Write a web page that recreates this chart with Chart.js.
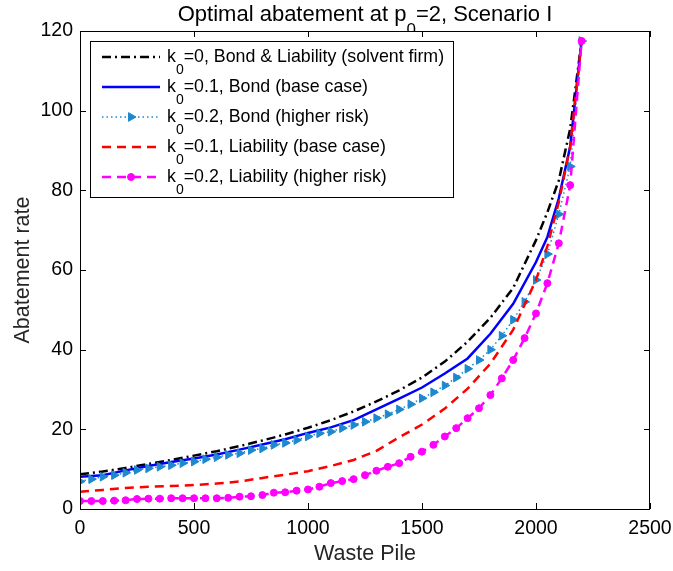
<!DOCTYPE html>
<html>
<head>
<meta charset="utf-8">
<title>Optimal abatement</title>
<script src="https://cdn.jsdelivr.net/npm/chart.js@4.4.1/dist/chart.umd.min.js"></script>
<style>
  html, body { margin: 0; padding: 0; background: #fff; }
  #wrap { width: 673px; height: 571px; }
</style>
</head>
<body>
<div id="wrap"><canvas id="chart" width="673" height="571"></canvas></div>
<script>
// Waste pile grid (coarse lines) and marker grid (every 50)
const xCoarse = [0, 100, 200, 300, 400, 500, 600, 700, 800, 900, 1000, 1100, 1200,
  1300, 1400, 1500, 1600, 1700, 1800, 1900, 2000, 2050, 2100, 2150, 2200];
const xDense = [0, 50, 100, 150, 200, 250, 300, 350, 400, 450, 500, 550, 600, 650,
  700, 750, 800, 850, 900, 950, 1000, 1050, 1100, 1150, 1200, 1250, 1300, 1350,
  1400, 1450, 1500, 1550, 1600, 1650, 1700, 1750, 1800, 1850, 1900, 1950, 2000,
  2050, 2100, 2150, 2200];

// Abatement rate series
const solventFirm = [8.7, 9.4, 10.3, 11.3, 12.3, 13.4, 14.5, 15.8, 17.2, 18.7, 20.4,
  22.3, 24.5, 27.0, 29.8, 33.0, 37.0, 42.0, 48.0, 55.5, 67.5, 74.5, 82.5, 95.5, 117.5];
const bondBase = [8.1, 8.5, 9.7, 10.8, 11.8, 12.7, 13.7, 14.9, 16.2, 17.5, 19.1,
  20.5, 22.3, 25.0, 27.7, 30.5, 34.0, 37.8, 44.0, 51.5, 62.0, 68.3, 78.0, 91.0, 117.5];
const bondHighRisk = [6.9, 7.5, 8.1, 8.5, 9.1, 9.8, 10.2, 10.6, 11.0, 11.5, 11.9,
  12.5, 13.0, 13.6, 14.0, 14.8, 15.2, 16.1, 16.6, 17.3, 18.2, 19.0, 19.4, 20.3,
  21.1, 21.9, 22.8, 23.8, 25.0, 26.3, 27.8, 29.3, 31.0, 33.0, 35.2, 37.4, 40.0,
  43.5, 47.5, 52.0, 57.5, 64.0, 74.0, 86.0, 117.5];
const liabilityBase = [4.3, 4.8, 5.3, 5.6, 5.8, 6.0, 6.4, 6.9, 7.8, 8.6, 9.5, 10.8,
  12.3, 14.6, 18.0, 21.2, 25.2, 30.2, 36.5, 45.0, 57.5, 66.0, 77.0, 91.0, 117.5];
const liabilityHighRisk = [2.0, 2.0, 2.0, 2.1, 2.2, 2.5, 2.6, 2.6, 2.7, 2.7, 2.7,
  2.7, 2.7, 2.8, 3.1, 3.2, 3.5, 4.1, 4.2, 4.6, 4.9, 5.6, 6.5, 7.0, 7.5, 8.5, 9.6,
  10.6, 11.5, 13.1, 14.4, 16.1, 18.2, 20.3, 22.8, 25.3, 28.6, 32.8, 37.4, 42.9,
  49.1, 56.7, 66.7, 81.3, 117.5];

const seriesNames = [
  'k_0=0, Bond & Liability (solvent firm)',
  'k_0=0.1, Bond (base case)',
  'k_0=0.2, Bond (higher risk)',
  'k_0=0.1, Liability (base case)',
  'k_0=0.2, Liability (higher risk)'
];
const chartTitle = 'Optimal abatement at p_0=2, Scenario I';
const xTicks = [0, 500, 1000, 1500, 2000, 2500];
const yTicks = [0, 20, 40, 60, 80, 100, 120];

const FONT = "'Liberation Sans', Arial, Helvetica, sans-serif";

function pairs(xs, ys) {
  return ys.map((y, i) => ({ x: xs[i], y: y }));
}

// draw text where "_d" means a subscript digit
function drawRich(ctx, text, x, y, size, align) {
  const parts = text.split(/_(\d)/);
  const subSize = Math.round(size * 0.78);
  let total = 0;
  parts.forEach((p, i) => {
    ctx.font = (i % 2 ? subSize : size) + 'px ' + FONT;
    total += ctx.measureText(p).width;
  });
  let cx = align === 'center' ? x - total / 2 : x;
  ctx.textAlign = 'left';
  ctx.textBaseline = 'alphabetic';
  parts.forEach((p, i) => {
    const sub = i % 2 === 1;
    ctx.font = (sub ? subSize : size) + 'px ' + FONT;
    ctx.fillText(p, cx, sub ? y + size * 0.68 : y);
    cx += ctx.measureText(p).width;
  });
}

const matlabFrame = {
  id: 'matlabFrame',
  beforeDraw(chart) {
    const { ctx, chartArea: a } = chart;
    ctx.save();
    ctx.fillStyle = '#000';
    drawRich(ctx, chartTitle, (a.left + a.right) / 2, 20.5, 22, 'center');
    ctx.restore();
  },
  beforeDatasetsDraw(chart) {
    // white axes background hides the bottom of the title subscript
    const { ctx, chartArea: a } = chart;
    ctx.save();
    ctx.fillStyle = '#fff';
    ctx.fillRect(a.left, a.top, a.right - a.left, a.bottom - a.top);
    ctx.restore();
  },
  afterDraw(chart) {
    const { ctx, chartArea: a, scales } = chart;
    ctx.save();
    // axes box
    ctx.strokeStyle = '#000';
    ctx.lineWidth = 1;
    ctx.strokeRect(a.left + 0.5, a.top + 0.5, a.right - a.left - 1, a.bottom - a.top);
    // inward ticks on all four sides
    ctx.beginPath();
    xTicks.forEach(v => {
      const px = Math.round(scales.x.getPixelForValue(v)) + 0.5;
      ctx.moveTo(px, a.bottom); ctx.lineTo(px, a.bottom - 6);
      ctx.moveTo(px, a.top); ctx.lineTo(px, a.top + 6);
    });
    yTicks.forEach(v => {
      const py = Math.round(scales.y.getPixelForValue(v)) + 0.5;
      ctx.moveTo(a.left, py); ctx.lineTo(a.left + 6, py);
      ctx.moveTo(a.right, py); ctx.lineTo(a.right - 6, py);
    });
    ctx.stroke();

    // legend box
    const bx = 90, by = 41, bw = 363, bh = 156;
    ctx.fillStyle = '#fff';
    ctx.fillRect(bx, by, bw, bh);
    ctx.strokeRect(bx + 0.5, by + 0.5, bw, bh);
    chart.data.datasets.forEach((ds, i) => {
      const ly = 57 + i * 30;
      ctx.save();
      ctx.strokeStyle = ds.borderColor;
      ctx.lineWidth = ds.borderWidth;
      ctx.setLineDash(ds.borderDash || []);
      ctx.beginPath();
      ctx.moveTo(102, ly);
      ctx.lineTo(160, ly);
      ctx.stroke();
      ctx.restore();
      if (ds.pointRadius > 0) {
        ctx.fillStyle = ds.pointBackgroundColor;
        ctx.strokeStyle = ds.pointBorderColor;
        Chart.helpers.drawPoint(ctx, {
          pointStyle: ds.pointStyle, radius: ds.pointRadius,
          rotation: ds.pointRotation || 0, borderWidth: 1
        }, 131, ly);
      }
      ctx.fillStyle = '#000';
      drawRich(ctx, seriesNames[i], 167, ly + 5, 17.8, 'left');
    });
    ctx.restore();
  }
};

new Chart(document.getElementById('chart'), {
  type: 'line',
  data: {
    datasets: [
      {
        data: pairs(xCoarse, solventFirm),
        borderColor: '#000000', borderWidth: 2.5, borderDash: [9, 4, 2, 4],
        pointRadius: 0, order: 5
      },
      {
        data: pairs(xCoarse, bondBase),
        borderColor: '#0000ff', borderWidth: 2.5,
        pointRadius: 0, order: 4
      },
      {
        data: pairs(xDense, bondHighRisk),
        borderColor: '#1e88cf', borderWidth: 1.5, borderDash: [1.5, 3],
        pointStyle: 'triangle', pointRotation: 90, pointRadius: 5,
        pointBackgroundColor: '#1e88cf', pointBorderColor: '#1e88cf', pointBorderWidth: 1,
        order: 3
      },
      {
        data: pairs(xCoarse, liabilityBase),
        borderColor: '#ff0000', borderWidth: 2.5, borderDash: [9, 6],
        pointRadius: 0, order: 2
      },
      {
        data: pairs(xDense, liabilityHighRisk),
        borderColor: '#ff00ff', borderWidth: 2.5, borderDash: [9, 6],
        pointStyle: 'circle', pointRadius: 3.5,
        pointBackgroundColor: '#ff00ff', pointBorderColor: '#ff00ff', pointBorderWidth: 1,
        order: 1
      }
    ]
  },
  options: {
    responsive: false,
    animation: false,
    devicePixelRatio: 1,
    layout: { padding: { top: 31, right: 23, left: 0, bottom: 0 } },
    elements: { line: { tension: 0, fill: false } },
    plugins: {
      legend: { display: false },
      title: { display: false },
      tooltip: { enabled: false }
    },
    scales: {
      x: {
        type: 'linear', min: 0, max: 2500,
        afterBuildTicks(scale) { scale.ticks = xTicks.map(v => ({ value: v })); },
        afterFit(scale) {
          scale.height = 62;
          scale.paddingLeft = 0;
          scale.paddingRight = 0;
        },
        grid: { display: false, drawTicks: false },
        border: { display: false },
        ticks: {
          font: { family: FONT, size: 19.5 }, color: '#000', padding: 8, maxRotation: 0,
          callback: v => String(v)
        },
        title: {
          display: true, text: 'Waste Pile', color: '#262626',
          font: { family: FONT, size: 21.5 }, padding: { bottom: 4 }
        }
      },
      y: {
        type: 'linear', min: 0, max: 120,
        afterBuildTicks(scale) { scale.ticks = yTicks.map(v => ({ value: v })); },
        afterFit(scale) {
          scale.width = 80;
          scale.paddingTop = 0;
          scale.paddingBottom = 0;
        },
        grid: { display: false, drawTicks: false },
        border: { display: false },
        ticks: {
          font: { family: FONT, size: 19.5 }, color: '#000', padding: 7,
          callback: v => String(v)
        },
        title: {
          display: true, text: 'Abatement rate', color: '#262626',
          font: { family: FONT, size: 21.5 }, padding: { top: 10 }
        }
      }
    }
  },
  plugins: [matlabFrame]
});
</script>
</body>
</html>
